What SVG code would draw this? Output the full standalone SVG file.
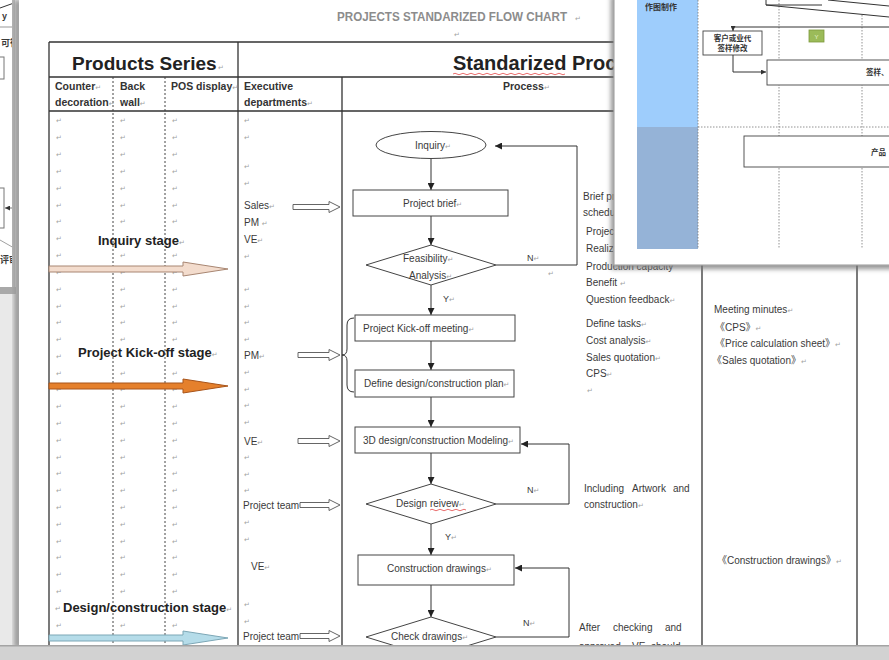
<svg xmlns="http://www.w3.org/2000/svg" width="889" height="660" viewBox="0 0 889 660">
<style>
text{font-family:"Liberation Sans","Noto Sans CJK SC",sans-serif;fill:#3a3a3a}
.t{font-size:10px}
.h{font-size:10.5px;font-weight:bold;fill:#333}
.big{font-size:20px;font-weight:bold;fill:#222}
.stage{font-size:13px;font-weight:bold;fill:#222}
.pm{font-family:"DejaVu Sans",sans-serif;font-size:7px;fill:#a2a2a2;font-weight:normal}
.lbl{font-size:9px}
.grid{stroke:#333;stroke-width:1.3;fill:none}
.dot{stroke:#444;stroke-width:1;stroke-dasharray:2 2;fill:none}
.shape{fill:#fff;stroke:#444;stroke-width:1}
.ln{stroke:#333;stroke-width:1;fill:none}
.hollow{fill:#fff;stroke:#555;stroke-width:0.9}
.cjk{font-family:"Noto Sans CJK SC",sans-serif;font-weight:bold;font-size:7.5px;fill:#333}
.idot{stroke:#777;stroke-width:0.8;stroke-dasharray:1.5 1.5;fill:none}
.wavy{stroke:#e03030;stroke-width:0.7;fill:none}
</style>
<defs>
<marker id="ah" viewBox="0 0 10 10" refX="10" refY="5" markerWidth="7" markerHeight="7" orient="auto" markerUnits="userSpaceOnUse"><path d="M0,0 L10,5 L0,10 Z" fill="#222"/></marker>
<marker id="ahs" viewBox="0 0 10 10" refX="10" refY="5" markerWidth="5" markerHeight="5" orient="auto" markerUnits="userSpaceOnUse"><path d="M0,0 L10,5 L0,10 Z" fill="#333"/></marker>
<clipPath id="doc"><rect x="19" y="0" width="870" height="645"/></clipPath>
<clipPath id="back"><rect x="0" y="0" width="14" height="288"/></clipPath>
<clipPath id="ins"><rect x="614" y="0" width="275" height="265"/></clipPath>
<filter id="sh" x="-20%" y="-20%" width="140%" height="140%"><feGaussianBlur stdDeviation="2.5"/></filter>
</defs>

<!-- background -->
<rect x="0" y="0" width="889" height="660" fill="#e9e9e9"/>

<!-- back window on left -->
<g id="back-window">
<rect x="0" y="0" width="14" height="288" fill="#fff"/>
<g clip-path="url(#back)">
<path d="M0,8 L14,3" class="ln" stroke="#777"/>
<text x="2" y="19" style="font-size:9px;font-weight:bold">y</text>
<path d="M0,27 H14" stroke="#999" stroke-width="1"/>
<text x="1" y="46" style="font-size:9px;font-weight:bold;font-family:'Noto Sans CJK SC',sans-serif">可行</text>
<rect x="-6" y="57" width="10" height="22" fill="none" stroke="#777"/>
<rect x="-10" y="188" width="14" height="40" fill="none" stroke="#777"/>
<path d="M14,208 H5" stroke="#555" stroke-width="0.8" marker-end="url(#ahs)"/>
<path d="M0,240 L14,248" stroke="#888" stroke-width="0.8"/>
<text x="0" y="263" style="font-size:9px;font-weight:bold;font-family:'Noto Sans CJK SC',sans-serif">评审</text>
</g>
<rect x="12" y="0" width="3" height="290" fill="#b8b8b8"/>
<rect x="0" y="287" width="16" height="7" fill="#a9a9a9"/>
</g>

<!-- main window -->
<rect x="14" y="0" width="8" height="648" fill="#9a9a9a" filter="url(#sh)"/>
<rect x="19" y="0" width="870" height="646" fill="#fff"/>

<g clip-path="url(#doc)">
<!-- title -->
<text x="337" y="21" style="font-size:12px;font-weight:bold;fill:#8c8c8c" textLength="230" lengthAdjust="spacingAndGlyphs">PROJECTS STANDARIZED FLOW CHART</text>
<text class="pm" x="575" y="21">↵</text>
<text class="pm" x="454" y="37">↵</text>

<!-- table grid -->
<g id="table">
<path class="grid" d="M49,42 H620 M49,77 H620 M49,111 H620 M49,42 V648 M238,42 V648 M342,77 V648 M702,77 V648 M857,77 V648"/>
<path class="dot" d="M113,77 V648 M165,77 V648"/>
<text class="big" x="72" y="70" style="font-size:19px">Products Series</text>
<text class="pm" x="218" y="70">↵</text>
<text class="big" x="453" y="70">Standarized Process</text>
<path class="wavy" d="M453,74 q2,-1.5 4,0 t4,0 t4,0 t4,0 t4,0 t4,0 t4,0 t4,0 t4,0 t4,0 t4,0 t4,0 t4,0 t4,0 t4,0 t4,0 t4,0 t4,0 t4,0 t4,0 t4,0 t4,0 t4,0 t4,0 t4,0 t4,0 t4,0 t4,0"/>
<text class="h" x="55" y="90">Counter<tspan class="pm">↵</tspan></text>
<text class="h" x="55" y="106">decoration<tspan class="pm">↵</tspan></text>
<text class="h" x="120" y="90">Back</text>
<text class="h" x="120" y="106">wall<tspan class="pm">↵</tspan></text>
<text class="h" x="171" y="90">POS display<tspan class="pm">↵</tspan></text>
<text class="h" x="244" y="90">Executive</text>
<text class="h" x="244" y="106">departments<tspan class="pm">↵</tspan></text>
<text class="h" x="503" y="90">Process<tspan class="pm">↵</tspan></text>
</g>

<!-- paragraph marks in left columns -->
<g id="marks">
<text class="pm" x="56" y="123">↵</text><text class="pm" x="56" y="140">↵</text><text class="pm" x="56" y="157">↵</text><text class="pm" x="56" y="174">↵</text><text class="pm" x="56" y="191">↵</text><text class="pm" x="56" y="208">↵</text><text class="pm" x="56" y="224">↵</text><text class="pm" x="56" y="241">↵</text><text class="pm" x="56" y="258">↵</text><text class="pm" x="56" y="275">↵</text><text class="pm" x="56" y="292">↵</text><text class="pm" x="56" y="309">↵</text><text class="pm" x="56" y="325">↵</text><text class="pm" x="56" y="342">↵</text><text class="pm" x="56" y="359">↵</text><text class="pm" x="56" y="376">↵</text><text class="pm" x="56" y="392">↵</text><text class="pm" x="56" y="409">↵</text><text class="pm" x="56" y="426">↵</text><text class="pm" x="56" y="443">↵</text><text class="pm" x="56" y="460">↵</text><text class="pm" x="56" y="476">↵</text><text class="pm" x="56" y="493">↵</text><text class="pm" x="56" y="510">↵</text><text class="pm" x="56" y="527">↵</text><text class="pm" x="56" y="544">↵</text><text class="pm" x="56" y="560">↵</text><text class="pm" x="56" y="577">↵</text><text class="pm" x="56" y="594">↵</text><text class="pm" x="55" y="611">↵</text><text class="pm" x="56" y="628">↵</text>
<text class="pm" x="120" y="123">↵</text><text class="pm" x="120" y="140">↵</text><text class="pm" x="120" y="157">↵</text><text class="pm" x="120" y="174">↵</text><text class="pm" x="120" y="191">↵</text><text class="pm" x="120" y="208">↵</text><text class="pm" x="120" y="224">↵</text><text class="pm" x="120" y="258">↵</text><text class="pm" x="120" y="275">↵</text><text class="pm" x="120" y="292">↵</text><text class="pm" x="120" y="309">↵</text><text class="pm" x="120" y="325">↵</text><text class="pm" x="120" y="342">↵</text><text class="pm" x="120" y="376">↵</text><text class="pm" x="120" y="392">↵</text><text class="pm" x="120" y="409">↵</text><text class="pm" x="120" y="426">↵</text><text class="pm" x="120" y="443">↵</text><text class="pm" x="120" y="460">↵</text><text class="pm" x="120" y="476">↵</text><text class="pm" x="120" y="493">↵</text><text class="pm" x="120" y="510">↵</text><text class="pm" x="120" y="527">↵</text><text class="pm" x="120" y="544">↵</text><text class="pm" x="120" y="560">↵</text><text class="pm" x="120" y="577">↵</text><text class="pm" x="120" y="594">↵</text><text class="pm" x="120" y="628">↵</text>
<text class="pm" x="172" y="123">↵</text><text class="pm" x="172" y="140">↵</text><text class="pm" x="172" y="157">↵</text><text class="pm" x="172" y="174">↵</text><text class="pm" x="172" y="191">↵</text><text class="pm" x="172" y="208">↵</text><text class="pm" x="172" y="224">↵</text><text class="pm" x="172" y="258">↵</text><text class="pm" x="172" y="275">↵</text><text class="pm" x="172" y="292">↵</text><text class="pm" x="172" y="309">↵</text><text class="pm" x="172" y="325">↵</text><text class="pm" x="172" y="342">↵</text><text class="pm" x="172" y="376">↵</text><text class="pm" x="172" y="392">↵</text><text class="pm" x="172" y="409">↵</text><text class="pm" x="172" y="426">↵</text><text class="pm" x="172" y="443">↵</text><text class="pm" x="172" y="460">↵</text><text class="pm" x="172" y="476">↵</text><text class="pm" x="172" y="493">↵</text><text class="pm" x="172" y="510">↵</text><text class="pm" x="172" y="527">↵</text><text class="pm" x="172" y="544">↵</text><text class="pm" x="172" y="560">↵</text><text class="pm" x="172" y="577">↵</text><text class="pm" x="172" y="594">↵</text><text class="pm" x="172" y="628">↵</text>
<text class="pm" x="244" y="123">↵</text><text class="pm" x="244" y="140">↵</text><text class="pm" x="244" y="169">↵</text><text class="pm" x="244" y="186">↵</text><text class="pm" x="244" y="259">↵</text><text class="pm" x="244" y="292">↵</text><text class="pm" x="244" y="309">↵</text><text class="pm" x="244" y="325">↵</text><text class="pm" x="244" y="342">↵</text><text class="pm" x="244" y="375">↵</text><text class="pm" x="244" y="392">↵</text><text class="pm" x="244" y="408">↵</text><text class="pm" x="244" y="425">↵</text><text class="pm" x="244" y="460">↵</text><text class="pm" x="244" y="477">↵</text><text class="pm" x="244" y="493">↵</text><text class="pm" x="244" y="525">↵</text><text class="pm" x="244" y="542">↵</text><text class="pm" x="244" y="607">↵</text><text class="pm" x="244" y="624">↵</text>
</g>

<!-- stages -->
<g id="stage-inquiry">
<text class="stage" x="98" y="245">Inquiry stage<tspan class="pm">↵</tspan></text>
<path d="M49,266 H183 V262 L228,269 L183,276 V272 H49 Z" fill="#f3dccd" stroke="#a88672" stroke-width="1"/>
</g>
<g id="stage-kickoff">
<text class="stage" x="78" y="357">Project Kick-off stage<tspan class="pm">↵</tspan></text>
<path d="M49,383 H183 V379 L228,386 L183,393 V389 H49 Z" fill="#e5802c" stroke="#a8541a" stroke-width="1"/>
</g>
<g id="stage-design">
<text class="stage" x="63" y="612">Design/construction stage<tspan class="pm">↵</tspan></text>
<path d="M49,635 H183 V631 L228,638 L183,645 V641 H49 Z" fill="#b5dce9" stroke="#7da7b6" stroke-width="1"/>
</g>

<!-- executive departments -->
<g id="exec-inquiry">
<text class="t" x="244" y="209">Sales<tspan class="pm">↵</tspan></text>
<text class="t" x="244" y="226">PM <tspan class="pm">↵</tspan></text>
<text class="t" x="244" y="243">VE<tspan class="pm">↵</tspan></text>
<path class="hollow" d="M293,204.5 H329 V201.5 L340,207 L329,212.5 V209.5 H293 Z"/>
</g>
<g id="exec-kickoff">
<text class="t" x="244" y="359">PM<tspan class="pm">↵</tspan></text>
<path class="hollow" d="M298,352.5 H329 V349.5 L340,355 L329,360.5 V357.5 H298 Z"/>
</g>
<g id="exec-modeling">
<text class="t" x="244" y="445">VE<tspan class="pm">↵</tspan></text>
<path class="hollow" d="M298,438.5 H329 V435.5 L340,441 L329,446.5 V443.5 H298 Z"/>
</g>
<g id="exec-review">
<text class="t" x="243" y="509">Project team</text>
<path class="hollow" d="M300,502.5 H329 V499.5 L340,505 L329,510.5 V507.5 H300 Z"/>
</g>
<g id="exec-drawings">
<text class="t" x="251" y="570">VE<tspan class="pm">↵</tspan></text>
</g>
<g id="exec-check">
<text class="t" x="243" y="640">Project team</text>
<path class="hollow" d="M300,633.5 H329 V630.5 L340,636 L329,641.5 V638.5 H300 Z"/>
</g>

<!-- connectors -->
<g id="connectors">
<path class="ln" d="M431,158.5 V190" marker-end="url(#ah)"/>
<path class="ln" d="M431,216 V245" marker-end="url(#ah)"/>
<path class="ln" d="M496,265 H577 V146 H495" marker-end="url(#ah)"/>
<path class="ln" d="M431,285 V315" marker-end="url(#ah)"/>
<path class="ln" d="M431,341 V370" marker-end="url(#ah)"/>
<path class="ln" d="M431,397 V427" marker-end="url(#ah)"/>
<path class="ln" d="M431,453 V484" marker-end="url(#ah)"/>
<path class="ln" d="M496,504 H569 V444 H521" marker-end="url(#ah)"/>
<path class="ln" d="M431,524 V555" marker-end="url(#ah)"/>
<path class="ln" d="M431,585 V617" marker-end="url(#ah)"/>
<path class="ln" d="M496,637 H569 V568 H515" marker-end="url(#ah)"/>
<path class="ln" d="M354,318 Q347,318 347,325 V349 Q347,355 342,355 Q347,355 347,361 V385 Q347,392 354,392"/>
<text class="lbl" x="527" y="261">N<tspan class="pm">↵</tspan></text>
<text class="pm" x="548" y="276">↵</text>
<text class="lbl" x="443" y="302">Y<tspan class="pm">↵</tspan></text>
<text class="lbl" x="527" y="493">N<tspan class="pm">↵</tspan></text>
<text class="lbl" x="445" y="540">Y<tspan class="pm">↵</tspan></text>
<text class="lbl" x="523" y="626">N<tspan class="pm">↵</tspan></text>
</g>

<!-- process nodes -->
<g id="n-inquiry">
<ellipse class="shape" cx="431" cy="145" rx="55" ry="13.5"/>
<text class="t" x="415" y="149">Inquiry<tspan class="pm">↵</tspan></text>
</g>
<g id="n-brief">
<rect class="shape" x="353" y="190" width="155" height="26"/>
<text class="t" x="403" y="207">Project brief<tspan class="pm">↵</tspan></text>
</g>
<g id="n-feasibility">
<polygon class="shape" points="431,245 496,265 431,285 366,265"/>
<text class="t" x="403" y="262">Feasibility<tspan class="pm">↵</tspan></text>
<text class="t" x="409" y="279">Analysis<tspan class="pm">↵</tspan></text>
</g>
<g id="n-kickoff">
<rect class="shape" x="355" y="315" width="160" height="26"/>
<text class="t" x="363" y="332">Project Kick-off  meeting<tspan class="pm">↵</tspan></text>
</g>
<g id="n-plan">
<rect class="shape" x="355" y="370" width="159" height="27"/>
<text class="t" x="364" y="387">Define design/construction plan<tspan class="pm">↵</tspan></text>
</g>
<g id="n-modeling">
<rect class="shape" x="355" y="427" width="165" height="26"/>
<text class="t" x="363" y="444">3D design/construction Modeling<tspan class="pm">↵</tspan></text>
</g>
<g id="n-review">
<polygon class="shape" points="431,484 496,504 431,524 366,504"/>
<text class="t" x="396" y="507">Design reivew<tspan class="pm">↵</tspan></text>
<path class="wavy" d="M430,510 q2,-1.5 4,0 t4,0 t4,0 t4,0 t4,0 t4,0 t4,0 t4,0 t4,0"/>
</g>
<g id="n-drawings">
<rect class="shape" x="358" y="555" width="156" height="30"/>
<text class="t" x="387" y="572">Construction drawings<tspan class="pm">↵</tspan></text>
</g>
<g id="n-check">
<polygon class="shape" points="431,617 496,637 431,657 366,637"/>
<text class="t" x="391" y="640">Check drawings<tspan class="pm">↵</tspan></text>
</g>

<!-- notes column -->
<g id="notes">
<text class="t" x="583" y="200">Brief project</text>
<text class="t" x="583" y="216">schedule</text>
<text class="t" x="586" y="235">Project</text>
<text class="t" x="586" y="252">Realize</text>
<text class="t" x="586" y="270">Production capacity</text>
<text class="t" x="586" y="286">Benefit <tspan class="pm">↵</tspan></text>
<text class="t" x="586" y="303">Question feedback<tspan class="pm">↵</tspan></text>
<text class="t" x="586" y="327">Define tasks<tspan class="pm">↵</tspan></text>
<text class="t" x="586" y="344">Cost analysis<tspan class="pm">↵</tspan></text>
<text class="t" x="586" y="361">Sales quotation<tspan class="pm">↵</tspan></text>
<text class="t" x="586" y="377">CPS<tspan class="pm">↵</tspan></text>
<text class="pm" x="587" y="393">↵</text>
<text class="t" x="584" y="492">Including</text>
<text class="t" x="632" y="492">Artwork</text>
<text class="t" x="673" y="492">and</text>
<text class="t" x="584" y="508">construction<tspan class="pm">↵</tspan></text>
<text class="t" x="579" y="631">After</text>
<text class="t" x="613" y="631">checking</text>
<text class="t" x="665" y="631">and</text>
<text class="t" x="579" y="650">approved</text>
<text class="t" x="632" y="650">VE</text>
<text class="t" x="651" y="650">should</text>
</g>

<!-- documents column -->
<g id="documents">
<text class="t" x="714" y="313">Meeting minutes<tspan class="pm">↵</tspan></text>
<text class="t" x="715" y="331">《CPS》<tspan class="pm">↵</tspan></text>
<text class="t" x="715" y="347">《Price calculation sheet》<tspan class="pm">↵</tspan></text>
<text class="t" x="712" y="364">《Sales quotation》<tspan class="pm">↵</tspan></text>
<text class="t" x="717" y="564">《Construction drawings》<tspan class="pm">↵</tspan></text>
</g>
</g>

<!-- inset window top right -->
<g id="inset">
<rect x="611" y="-4" width="285" height="273" fill="#777" filter="url(#sh)" opacity="0.8"/>
<rect x="614" y="-3" width="280" height="268" fill="#fff" stroke="#a8a8a8" stroke-width="1.2"/>
<g clip-path="url(#ins)">
<rect x="637" y="0" width="61" height="127" fill="#9ecdfc"/>
<rect x="637" y="127" width="61" height="122" fill="#95b3d7"/>
<path class="idot" d="M698,0 V249 M779,0 V249 M862,15 V249 M698,127 H889"/>
<text class="cjk" x="645" y="9.5" style="font-size:8px">作图制作</text>
<path class="ln" d="M766,0 V5 H822 M766,5 L889,17 M828,0 L889,6" stroke="#555" stroke-width="0.9"/>
<path class="ln" d="M889,27 H733 V31" stroke-width="0.9" marker-end="url(#ahs)"/>
<g id="inset-box1">
<rect x="703" y="31" width="59" height="24" fill="#fff" stroke="#444" stroke-width="0.9"/>
<text class="cjk" x="732.5" y="41" text-anchor="middle">客户或业代</text>
<text class="cjk" x="732.5" y="51" text-anchor="middle">签样修改</text>
</g>
<g id="inset-y">
<rect x="809" y="30" width="15" height="12" fill="#9bbb59" stroke="#7d9a3c" stroke-width="0.8"/>
<text x="816.5" y="38.5" text-anchor="middle" style="font-size:6px;fill:#e8f3d0">Y</text>
</g>
<path class="ln" d="M733,55 V72 H766" stroke-width="0.9" marker-end="url(#ahs)"/>
<g id="inset-box2">
<rect x="767" y="60" width="130" height="25" fill="#fff" stroke="#444" stroke-width="0.9"/>
<text class="cjk" x="866" y="75">签样、</text>
</g>
<g id="inset-box3">
<rect x="744" y="136" width="150" height="31" fill="#fff" stroke="#444" stroke-width="0.9"/>
<text class="cjk" x="871" y="155">产品</text>
</g>
</g>
</g>

<!-- bottom bar -->
<rect x="0" y="645" width="889" height="15" fill="#d2d2d2"/>
<rect x="0" y="645" width="889" height="1.5" fill="#a4a4a4"/>
</svg>
